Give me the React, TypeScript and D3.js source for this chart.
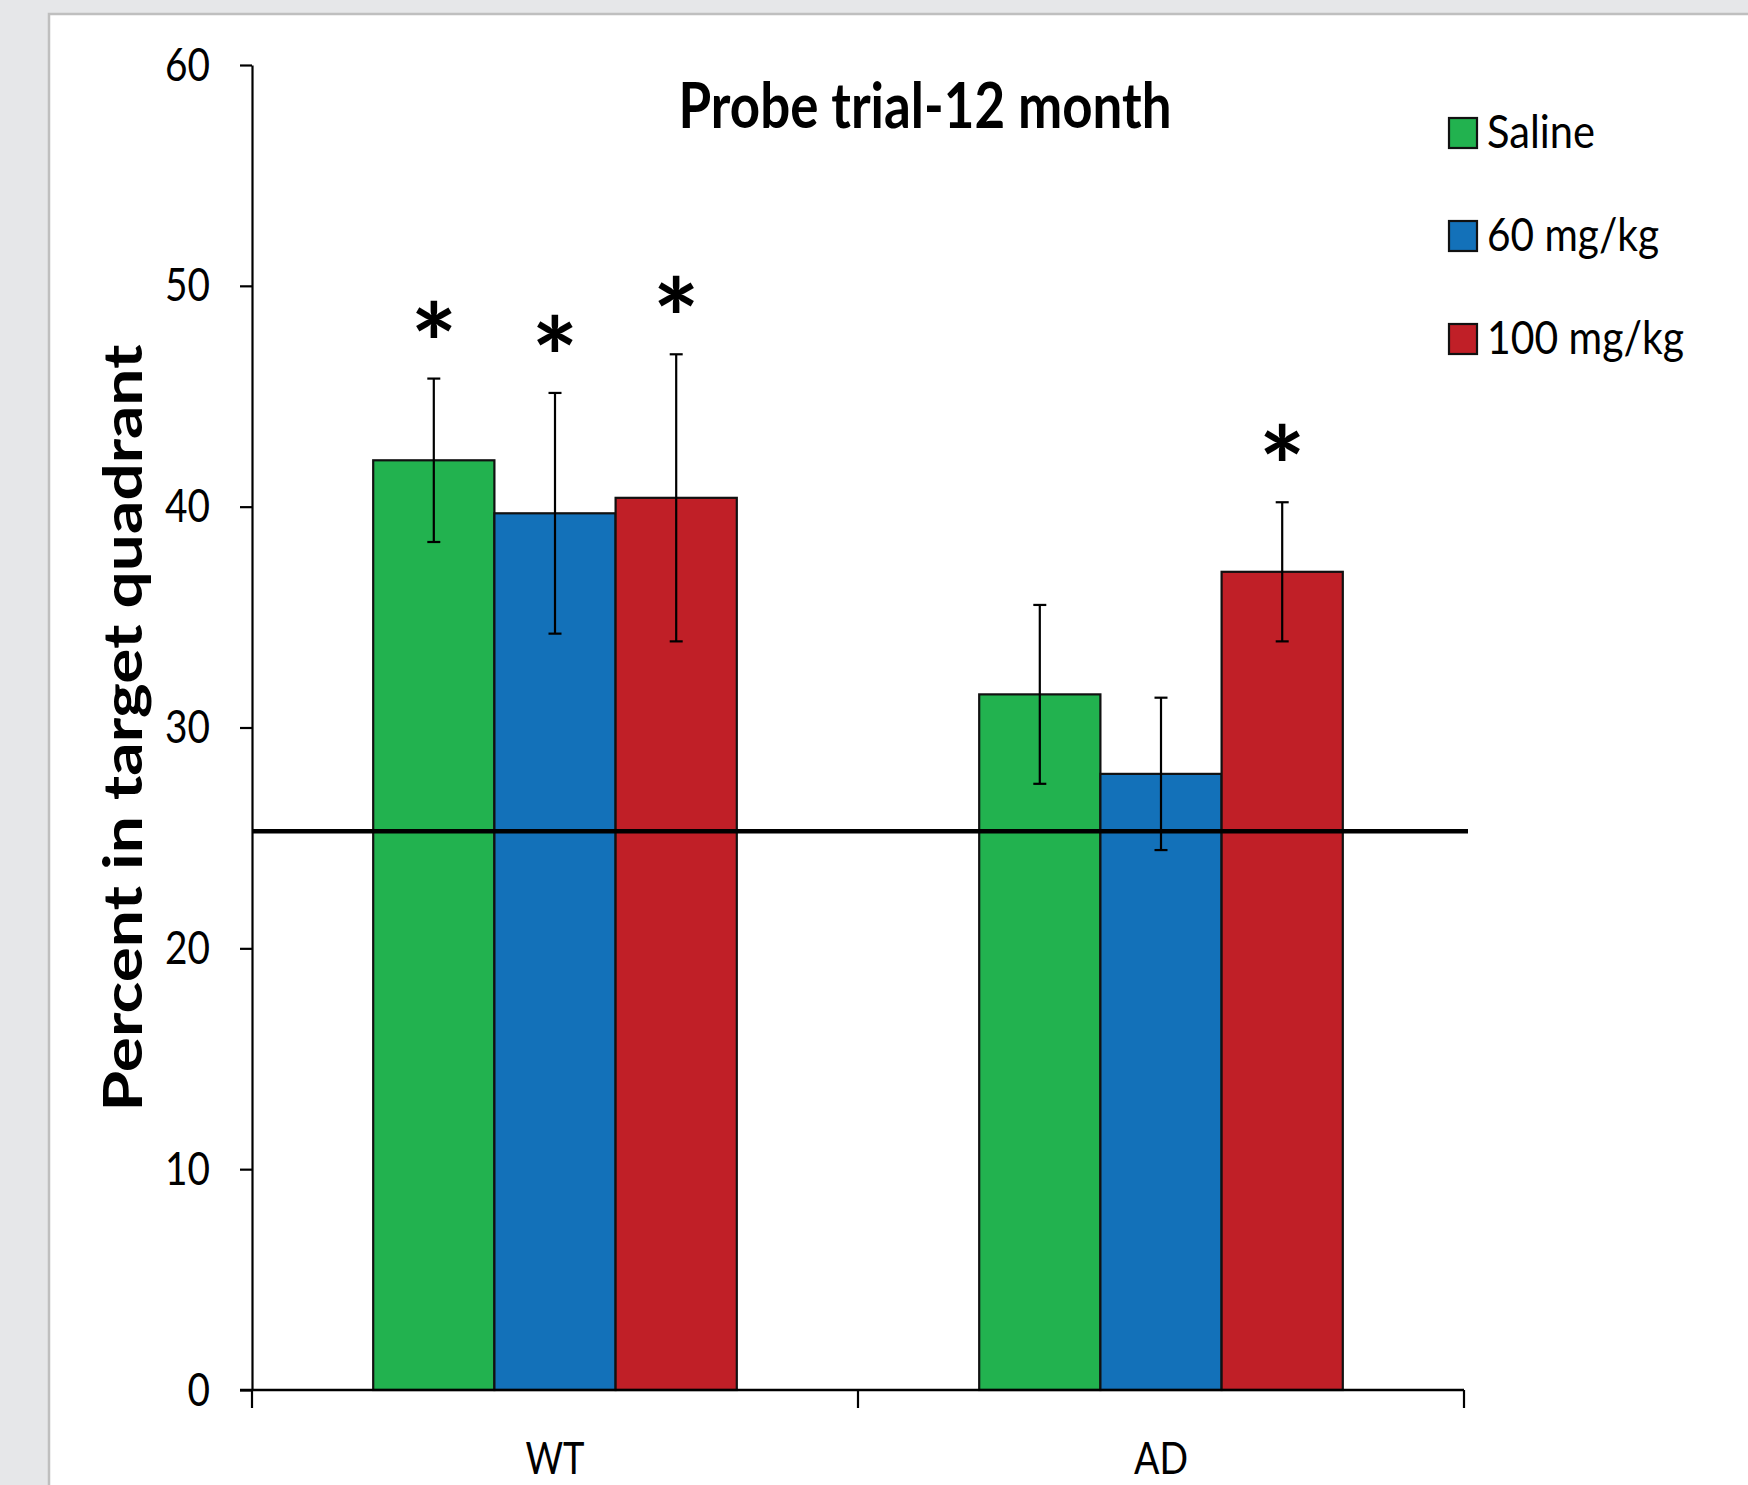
import { useRef, useEffect } from 'react';
import * as d3 from 'd3';

const groups = ['WT', 'AD'];
const seriesNames = ['Saline', '60 mg/kg', '100 mg/kg'];
const seriesColors = ['#22b24f', '#1371b9', '#c01f27'];

// mean % time in target quadrant, per group (WT, AD)
const saline = [42.1, 31.5];
const mg60 = [39.7, 27.9];
const mg100 = [40.4, 37.05];

// error bar half-lengths
const salineErr = [3.7, 4.05];
const mg60Err = [5.45, 3.45];
const mg100Err = [6.5, 3.15];

// significance marks
const salineSig = [true, false];
const mg60Sig = [true, false];
const mg100Sig = [true, true];

const yTicks = [0, 10, 20, 30, 40, 50, 60];
const chanceLevel = 25.3;

const W = 1748;
const H = 1485;
const FONT = 'Lato, "Open Sans", sans-serif';

export default function App() {
  const svgRef = useRef<SVGSVGElement>(null);

  useEffect(() => {
    if (!svgRef.current) return;
    const svg = d3.select(svgRef.current);
    svg.selectAll('*').remove();

    const values = [saline, mg60, mg100];
    const errs = [salineErr, mg60Err, mg100Err];
    const sigs = [salineSig, mg60Sig, mg100Sig];

    // background + panel
    svg.append('rect').attr('width', W).attr('height', H).attr('fill', '#e6e7e9');
    svg.append('rect')
      .attr('x', 49).attr('y', 14)
      .attr('width', W).attr('height', H + 20)
      .attr('fill', '#ffffff')
      .attr('stroke', '#bfbfbf')
      .attr('stroke-width', 2.5);

    const y = d3.scaleLinear().domain([0, 60]).range([1390, 65]);
    const x0 = d3.scaleBand<string>()
      .domain(groups)
      .range([252, 1464])
      .paddingInner(0.4)
      .paddingOuter(0.2);
    const x1 = d3.scaleBand<string>()
      .domain(seriesNames)
      .range([0, x0.bandwidth()]);

    // bars
    groups.forEach((g, gi) => {
      seriesNames.forEach((s, si) => {
        const v = values[si][gi];
        svg.append('rect')
          .attr('x', (x0(g) || 0) + (x1(s) || 0))
          .attr('y', y(v))
          .attr('width', x1.bandwidth())
          .attr('height', y(0) - y(v))
          .attr('fill', seriesColors[si])
          .attr('stroke', '#111')
          .attr('stroke-width', 2.2);
      });
    });

    // chance line
    svg.append('line')
      .attr('x1', 252).attr('x2', 1468)
      .attr('y1', y(chanceLevel)).attr('y2', y(chanceLevel))
      .attr('stroke', '#000')
      .attr('stroke-width', 4.5);

    // error bars and asterisks
    groups.forEach((g, gi) => {
      seriesNames.forEach((s, si) => {
        const v = values[si][gi];
        const e = errs[si][gi];
        const cx = (x0(g) || 0) + (x1(s) || 0) + x1.bandwidth() / 2;
        const eb = svg.append('g').attr('stroke', '#000').attr('stroke-width', 2.2);
        eb.append('line').attr('x1', cx).attr('x2', cx).attr('y1', y(v + e)).attr('y2', y(v - e));
        eb.append('line').attr('x1', cx - 6.5).attr('x2', cx + 6.5).attr('y1', y(v + e)).attr('y2', y(v + e));
        eb.append('line').attr('x1', cx - 6.5).attr('x2', cx + 6.5).attr('y1', y(v - e)).attr('y2', y(v - e));
        if (sigs[si][gi]) {
          svg.append('text')
            .attr('x', cx)
            .attr('y', y(v + e) + 5)
            .attr('text-anchor', 'middle')
            .attr('font-family', FONT)
            .attr('font-weight', 700)
            .attr('font-size', 110)
            .attr('fill', '#000')
            .text('*');
        }
      });
    });

    // y axis
    const yAxis = svg.append('g')
      .attr('transform', 'translate(252,0)')
      .call(d3.axisLeft(y).tickValues(yTicks).tickSize(12).tickSizeOuter(0).tickPadding(30));
    yAxis.select('.domain').attr('stroke', '#000').attr('stroke-width', 2.2);
    yAxis.selectAll('.tick line').attr('stroke', '#000').attr('stroke-width', 2.2);
    yAxis.selectAll<SVGTextElement, number>('.tick text')
      .attr('fill', '#000')
      .attr('font-family', FONT)
      .attr('textLength', (d) => String(d).length * 22.5)
      .attr('lengthAdjust', 'spacingAndGlyphs')
      .style('font-size', '47px');

    // x axis
    const step = x0.step();
    const start = x0.range()[0];
    const bounds = d3.range(groups.length + 1).map((i) => start + i * step);
    svg.append('line')
      .attr('x1', 240).attr('x2', bounds[bounds.length - 1])
      .attr('y1', y(0)).attr('y2', y(0))
      .attr('stroke', '#000').attr('stroke-width', 2.6);
    bounds.forEach((bx) => {
      svg.append('line')
        .attr('x1', bx).attr('x2', bx)
        .attr('y1', y(0)).attr('y2', y(0) + 18)
        .attr('stroke', '#000').attr('stroke-width', 2.2);
    });
    const xLabelW = [59, 54];
    groups.forEach((g, i) => {
      svg.append('text')
        .attr('x', (x0(g) || 0) + x0.bandwidth() / 2)
        .attr('y', 1474)
        .attr('text-anchor', 'middle')
        .attr('font-family', FONT)
        .attr('font-size', 45)
        .attr('textLength', xLabelW[i])
        .attr('lengthAdjust', 'spacingAndGlyphs')
        .attr('fill', '#000')
        .text(g);
    });

    // title
    svg.append('text')
      .attr('x', 925)
      .attr('y', 128)
      .attr('text-anchor', 'middle')
      .attr('font-family', FONT)
      .attr('font-weight', 700)
      .attr('font-size', 63)
      .attr('textLength', 493)
      .attr('lengthAdjust', 'spacingAndGlyphs')
      .attr('fill', '#000')
      .text('Probe trial-12 month');

    // y label
    svg.append('text')
      .attr('transform', 'translate(142,728) rotate(-90)')
      .attr('text-anchor', 'middle')
      .attr('font-family', FONT)
      .attr('font-weight', 700)
      .attr('font-size', 53)
      .attr('textLength', 767)
      .attr('lengthAdjust', 'spacingAndGlyphs')
      .attr('fill', '#000')
      .text('Percent in target quadrant');

    // legend
    const legendY = [133, 236, 339];
    const legendW = [108, 172, 197];
    seriesNames.forEach((s, i) => {
      svg.append('rect')
        .attr('x', 1449).attr('y', legendY[i] - 15)
        .attr('width', 28).attr('height', 30)
        .attr('fill', seriesColors[i])
        .attr('stroke', '#111')
        .attr('stroke-width', 2.2);
      svg.append('text')
        .attr('x', 1487)
        .attr('y', legendY[i] + 15)
        .attr('font-family', FONT)
        .attr('font-size', 46)
        .attr('textLength', legendW[i])
        .attr('lengthAdjust', 'spacingAndGlyphs')
        .attr('fill', '#000')
        .text(s);
    });
  }, []);

  return (
    <svg
      ref={svgRef}
      width={W}
      height={H}
      style={{ position: 'absolute', left: 0, top: 0, display: 'block' }}
    />
  );
}
